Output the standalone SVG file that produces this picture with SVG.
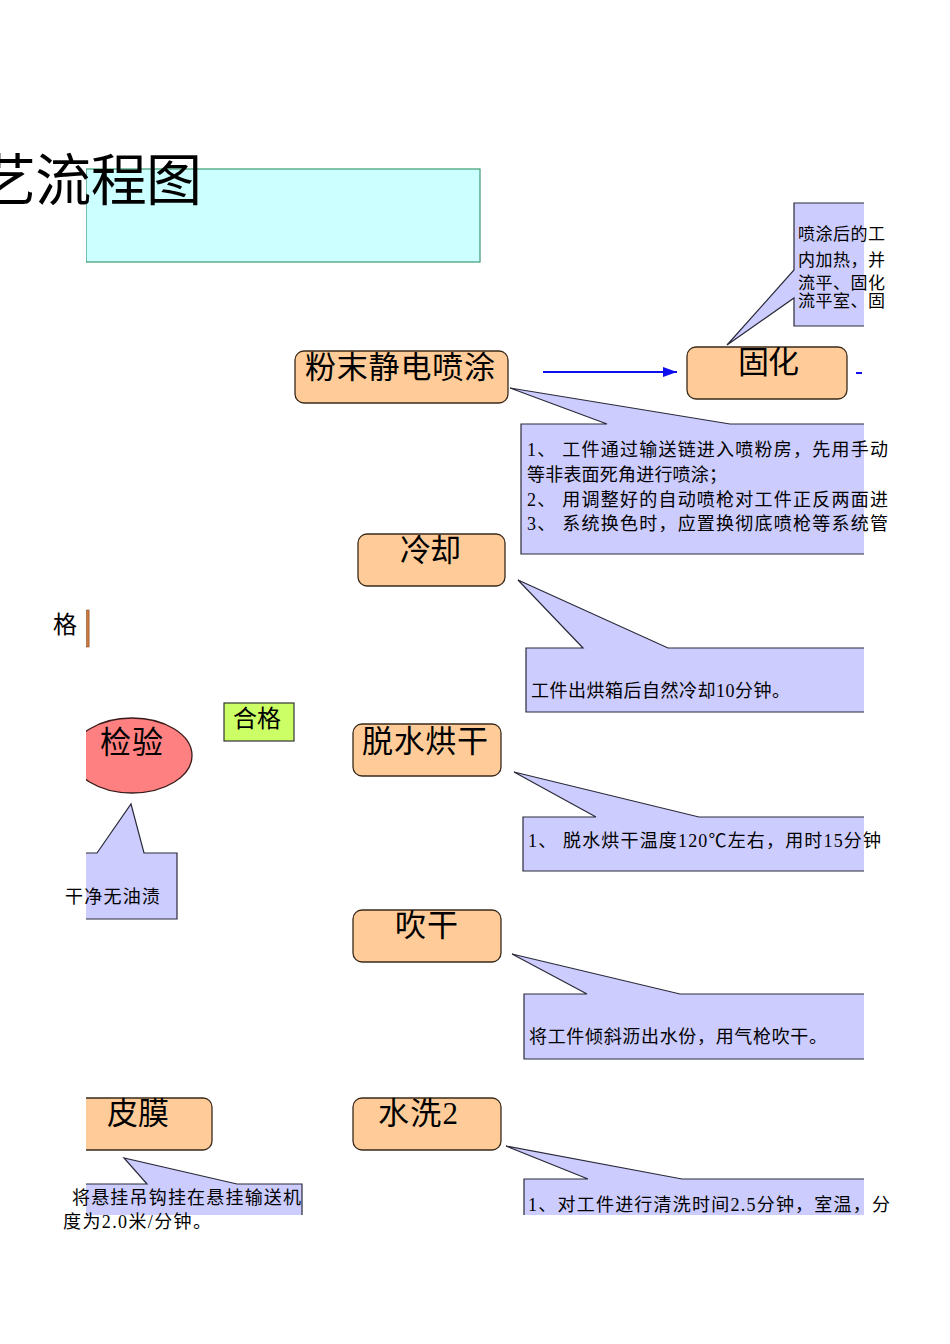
<svg xmlns="http://www.w3.org/2000/svg" width="950" height="1344" viewBox="0 0 950 1344">
<style>
text{font-family:"Liberation Serif","Noto Sans CJK SC",serif;fill:#000}
.node{fill:#FFCC99;stroke:#3a2a1a;stroke-width:1.3}
.call{fill:#CCCCFF;stroke:#2a2a3a;stroke-width:1.2}
.big{font-size:31px}
.mid{font-size:24px}
.sm{font-size:18px}
.xs{font-size:17px}
</style>
<defs>
<clipPath id="pg"><rect x="86" y="0" width="778" height="1215"/></clipPath>
<marker id="ah" viewBox="0 0 14 10" refX="14" refY="5" markerWidth="14" markerHeight="10" markerUnits="userSpaceOnUse" orient="auto"><path d="M0,0 L14,5 L0,10 Z" fill="#1010ee"/></marker>
</defs>
<rect width="950" height="1344" fill="#fff"/>
<g clip-path="url(#pg)">
<rect id="titlebox" x="86" y="169" width="394" height="93" fill="#CCFFFF" stroke="#3a9a70" stroke-width="1.2"/>
</g>
<text id="title" x="-20" y="200" font-size="56px" textLength="222">艺流程图</text>

<g id="connectors">
<line x1="543" y1="372" x2="677" y2="372" stroke="#1010ee" stroke-width="2.2" marker-end="url(#ah)"/>
<line x1="856" y1="373" x2="862" y2="373" stroke="#1010ee" stroke-width="2"/>
</g>

<g clip-path="url(#pg)">
<g id="call-spray"><path class="call" d="M521,424 L607,424 L510,388 L730,424 L870,424 L870,554 L521,554 Z"/></g>
<g id="call-cure"><path class="call" d="M794,203 L870,203 L870,326 L794,326 L794,298 L727,345 L794,270 Z"/></g>
<g id="call-cool"><path class="call" d="M526,648 L583,648 L518,580 L668,648 L870,648 L870,712 L526,712 Z"/></g>
<g id="call-dry"><path class="call" d="M523,817 L596,817 L514,772 L699,817 L870,817 L870,871 L523,871 Z"/></g>
<g id="call-blow"><path class="call" d="M524,994 L587,994 L512,954 L680,994 L870,994 L870,1059 L524,1059 Z"/></g>
<g id="call-wash2"><path class="call" d="M524,1179 L588,1179 L506,1146 L682,1179 L870,1179 L870,1230 L524,1230 Z"/></g>
<g id="call-film"><path class="call" d="M80,1184 L147,1184 L124,1158 L237,1184 L302,1184 L302,1230 L80,1230 Z"/></g>
<g id="call-inspect"><path class="call" d="M80,853 L97,853 L131,804 L144,853 L177,853 L177,919 L80,919 Z"/></g>

<g id="n-spray"><rect class="node" x="295" y="351" width="213" height="52" rx="9"/></g>
<g id="n-cure"><rect class="node" x="687" y="347" width="160" height="52" rx="9"/></g>
<g id="n-cool"><rect class="node" x="358" y="534" width="147" height="52" rx="9"/></g>
<g id="n-dry"><rect class="node" x="353" y="724" width="148" height="52" rx="9"/></g>
<g id="n-blow"><rect class="node" x="353" y="910" width="148" height="52" rx="9"/></g>
<g id="n-wash2"><rect class="node" x="353" y="1098" width="148" height="52" rx="9"/></g>
<g id="n-film"><rect class="node" x="70" y="1098" width="142" height="52" rx="9"/></g>
<g id="n-inspect"><ellipse cx="132" cy="755.5" rx="60" ry="37.5" fill="#FF8080" stroke="#3a1a1a" stroke-width="1.3"/></g>
<g id="n-pass"><rect x="224" y="703" width="70" height="38" fill="#CCFF66" stroke="#333" stroke-width="1.2"/></g>
<g id="n-bar"><rect x="86.5" y="610" width="2.6" height="37" fill="#d07a3a" stroke="#6a3a1a" stroke-width="0.5"/></g>
</g>

<g id="labels">
<text class="big" x="305" y="378" textLength="190">粉末静电喷涂</text>
<text class="big" x="738" y="373" textLength="61">固化</text>
<text class="big" x="400" y="561" textLength="61">冷却</text>
<text class="big" x="362" y="752" textLength="126">脱水烘干</text>
<text class="big" x="395" y="936" textLength="63">吹干</text>
<text class="big" x="378" y="1124" textLength="80">水洗2</text>
<text class="big" x="107" y="1124" textLength="62">皮膜</text>
<text class="big" x="100" y="753" textLength="63">检验</text>
<text class="mid" x="233" y="727" textLength="48">合格</text>
<text class="mid" x="53" y="633" textLength="24">格</text>

<text class="sm" x="527" y="456" textLength="361">1、 工件通过输送链进入喷粉房，先用手动</text>
<text class="sm" x="527" y="481" textLength="200">等非表面死角进行喷涂；</text>
<text class="sm" x="527" y="506" textLength="361">2、 用调整好的自动喷枪对工件正反两面进</text>
<text class="sm" x="527" y="530" textLength="361">3、 系统换色时，应置换彻底喷枪等系统管</text>

<text class="xs" x="798" y="240" textLength="87">喷涂后的工</text>
<text class="xs" x="798" y="266" textLength="87">内加热，并</text>
<text class="xs" x="798" y="289" textLength="87">流平、固化</text>
<text class="xs" x="798" y="307" textLength="87">流平室、固</text>

<text class="sm" x="531" y="697" textLength="259">工件出烘箱后自然冷却10分钟。</text>
<text class="sm" x="528" y="847" textLength="353">1、 脱水烘干温度120℃左右，用时15分钟</text>
<text class="sm" x="529" y="1043" textLength="298">将工件倾斜沥出水份，用气枪吹干。</text>
<text class="sm" x="528" y="1211" textLength="362">1、对工件进行清洗时间2.5分钟，室温，分</text>
<text class="sm" x="72" y="1204" textLength="229">将悬挂吊钩挂在悬挂输送机</text>
<text class="sm" x="63" y="1228" textLength="148">度为2.0米/分钟。</text>
<text class="sm" x="65" y="903" textLength="95">干净无油渍</text>
</g>
</svg>
